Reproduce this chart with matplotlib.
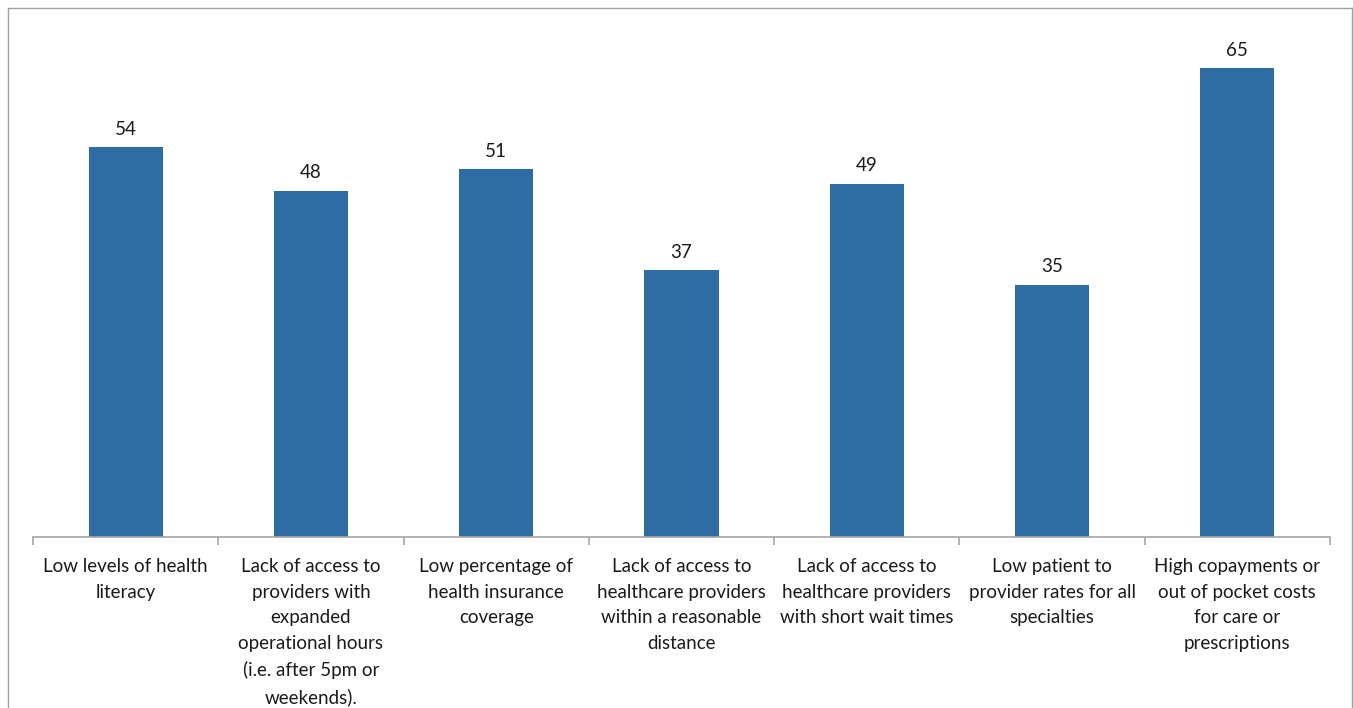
import matplotlib.pyplot as plt
import numpy as np
from matplotlib.lines import Line2D

categories = [
    "Low levels of health\nliteracy",
    "Lack of access to\nproviders with\nexpanded\noperational hours\n(i.e. after 5pm or\nweekends).",
    "Low percentage of\nhealth insurance\ncoverage",
    "Lack of access to\nhealthcare providers\nwithin a reasonable\ndistance",
    "Lack of access to\nhealthcare providers\nwith short wait times",
    "Low patient to\nprovider rates for all\nspecialties",
    "High copayments or\nout of pocket costs\nfor care or\nprescriptions",
]
values = [54, 48, 51, 37, 49, 35, 65]

plt.rcParams['font.family'] = ['Lato', 'DejaVu Sans']

fig = plt.figure(figsize=(13.53, 7.08), dpi=100)
ax = fig.add_axes([33 / 1353, 171 / 708, 1297 / 1353, 505 / 708])

x = np.arange(len(values))
bars = ax.bar(x, values, width=0.4, color='#2E6DA4')
for b, v in zip(bars, values):
    ax.text(b.get_x() + b.get_width() / 2, v + 1.3, str(v),
            ha='center', va='bottom', fontsize=13.5, color='#1a1a1a')

ax.set_xlim(-0.5, len(values) - 0.5)
ax.set_ylim(0, 70)
ax.set_yticks([])
for s in ['top', 'right', 'left']:
    ax.spines[s].set_visible(False)
ax.spines['bottom'].set_color('#A6A6A6')
ax.spines['bottom'].set_linewidth(1.2)

ax.set_xticks(x)
ax.set_xticklabels(categories, fontsize=13.5, color='#1a1a1a', linespacing=1.62, va='top')
ax.tick_params(axis='x', which='major', length=0, pad=15)
ax.set_xticks(np.arange(len(values) + 1) - 0.5, minor=True)
ax.tick_params(axis='x', which='minor', length=6, color='#A6A6A6', width=1.2)

# outer border
border = '#A0A0A0'
fig.add_artist(Line2D([8 / 1353, 8 / 1353], [0, 1 - 8 / 708], color=border, lw=1))
fig.add_artist(Line2D([8 / 1353, 1352 / 1353], [1 - 8 / 708, 1 - 8 / 708], color=border, lw=1))
fig.add_artist(Line2D([1352 / 1353, 1352 / 1353], [0, 1 - 8 / 708], color=border, lw=1))

fig.savefig('out.png', dpi=100)
